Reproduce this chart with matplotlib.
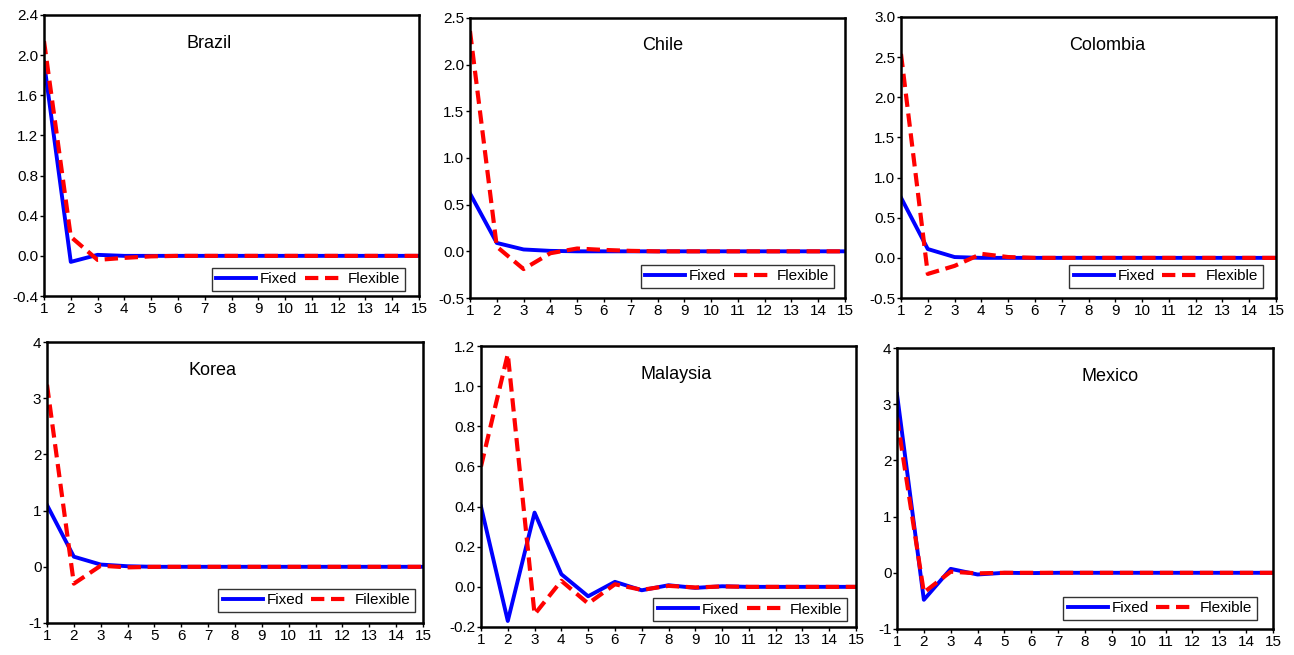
import numpy as np
import matplotlib
matplotlib.use("Agg")
import matplotlib.pyplot as plt

plt.rcParams['font.family'] = ['Liberation Sans', 'DejaVu Sans']

periods = list(range(1, 16))

brazil_fixed = [1.93, -0.06, 0.01, 0.0, 0.0, 0.0, 0.0, 0.0, 0.0, 0.0, 0.0, 0.0, 0.0, 0.0, 0.0]
brazil_flex = [2.14, 0.19, -0.04, -0.02, -0.005, 0.0, 0.0, 0.0, 0.0, 0.0, 0.0, 0.0, 0.0, 0.0, 0.0]

chile_fixed = [0.62, 0.09, 0.02, 0.005, 0.0, 0.0, 0.0, 0.0, 0.0, 0.0, 0.0, 0.0, 0.0, 0.0, 0.0]
chile_flex = [2.36, 0.05, -0.19, -0.02, 0.03, 0.015, 0.005, 0.0, 0.0, 0.0, 0.0, 0.0, 0.0, 0.0, 0.0]

colombia_fixed = [0.75, 0.11, 0.01, 0.0, 0.0, 0.0, 0.0, 0.0, 0.0, 0.0, 0.0, 0.0, 0.0, 0.0, 0.0]
colombia_flex = [2.54, -0.2, -0.1, 0.05, 0.01, 0.0, 0.0, 0.0, 0.0, 0.0, 0.0, 0.0, 0.0, 0.0, 0.0]

korea_fixed = [1.1, 0.18, 0.04, 0.01, 0.0, 0.0, 0.0, 0.0, 0.0, 0.0, 0.0, 0.0, 0.0, 0.0, 0.0]
korea_flex = [3.24, -0.3, 0.02, -0.01, 0.0, 0.0, 0.0, 0.0, 0.0, 0.0, 0.0, 0.0, 0.0, 0.0, 0.0]

malaysia_fixed = [0.40, -0.17, 0.37, 0.063, -0.047, 0.025, -0.017, 0.008, -0.005, 0.003, 0.0, 0.0, 0.0, 0.0, 0.0]
malaysia_flex = [0.60, 1.16, -0.137, 0.03, -0.083, 0.013, -0.015, 0.005, -0.003, 0.002, 0.0, 0.0, 0.0, 0.0, 0.0]

mexico_fixed = [3.18, -0.48, 0.07, -0.03, 0.0, -0.005, 0.0, 0.0, 0.0, 0.0, 0.0, 0.0, 0.0, 0.0, 0.0]
mexico_flex = [2.76, -0.35, 0.02, -0.01, 0.0, 0.0, 0.0, 0.0, 0.0, 0.0, 0.0, 0.0, 0.0, 0.0, 0.0]

# name, fixed, flexible, legend label, y ticks, tick format
panels = [
    ("Brazil", brazil_fixed, brazil_flex, "Flexible", np.arange(-0.4, 2.41, 0.4), "{:.1f}"),
    ("Chile", chile_fixed, chile_flex, "Flexible", np.arange(-0.5, 2.51, 0.5), "{:.1f}"),
    ("Colombia", colombia_fixed, colombia_flex, "Flexible", np.arange(-0.5, 3.01, 0.5), "{:.1f}"),
    ("Korea", korea_fixed, korea_flex, "Filexible", np.arange(-1, 5, 1), "{:.0f}"),
    ("Malaysia", malaysia_fixed, malaysia_flex, "Flexible", np.arange(-0.2, 1.21, 0.2), "{:.1f}"),
    ("Mexico", mexico_fixed, mexico_flex, "Flexible", np.arange(-1, 5, 1), "{:.0f}"),
]

# axes boxes in pixels (left, top, right, bottom)
boxes = [(44, 15, 419, 296), (470, 18, 845, 298), (901, 17, 1276, 298),
         (47, 342, 423, 623), (481, 346, 856, 627), (897, 348, 1273, 629)]
title_x = [0.44, 0.515, 0.55, 0.44, 0.52, 0.567]
leg_anchor = [(0.963, 0.018), (0.971, 0.036), (0.965, 0.036),
              (0.979, 0.039), (0.976, 0.021), (0.957, 0.032)]

W, H = 1294, 655
fig = plt.figure(figsize=(W / 100, H / 100), dpi=100)

for i, (name, fx, fl, flab, yt, fmt) in enumerate(panels):
    l, t, r, b = boxes[i]
    ax = fig.add_axes([l / W, 1 - b / H, (r - l) / W, (b - t) / H])
    ax.plot(periods, fx, color='#0000ff', lw=2.8, label='Fixed')
    ax.plot(periods, fl, color='#ff0000', lw=3.0, dashes=(3.2, 1.6), label=flab)
    ax.set_xlim(1, 15)
    ax.set_ylim(yt[0], yt[-1])
    ax.set_xticks(periods)
    ax.set_yticks(yt)
    ax.set_yticklabels([fmt.format(0.0 if abs(v) < 1e-9 else v) for v in yt])
    ax.tick_params(direction='out', length=3, width=1, labelsize=11, pad=1)
    for s in ax.spines.values():
        s.set_linewidth(1.8)
    ax.text(title_x[i], 0.9, name, transform=ax.transAxes, ha='center', va='center', fontsize=13)
    leg = ax.legend(loc='lower right', bbox_to_anchor=leg_anchor[i], ncol=2, fontsize=11,
                    frameon=True, fancybox=False, edgecolor='black', handlelength=2.6,
                    columnspacing=0.5, handletextpad=0.25, borderpad=0.3, borderaxespad=0)
    leg.get_frame().set_linewidth(1.0)

fig.savefig("out.png", dpi=100)
